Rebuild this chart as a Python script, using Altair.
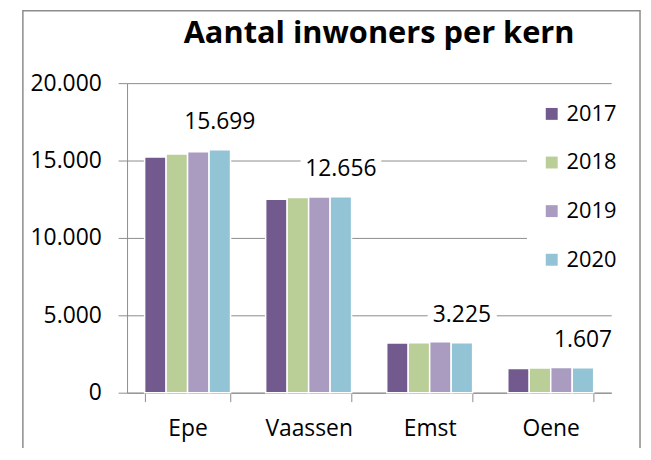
import altair as alt
import pandas as pd

kernen = ["Epe", "Vaassen", "Emst", "Oene"]
jaren = ["2017", "2018", "2019", "2020"]
v2017 = [15230, 12500, 3215, 1560]
v2018 = [15420, 12610, 3220, 1600]
v2019 = [15570, 12650, 3290, 1625]
v2020 = [15699, 12656, 3225, 1607]
kleuren = ["#725A8E", "#BACE98", "#AA9BC0", "#93C4D5"]
y_ticks = [0, 5000, 10000, 15000, 20000]
titel = ["Aantal inwoners per kern"]

FONT = "Open Sans"
GRAY = "#8C8C8C"

rows = []
for j, vals in zip(jaren, [v2017, v2018, v2019, v2020]):
    for k, v in zip(kernen, vals):
        rows.append({"Kern": k, "Jaar": j, "Inwoners": v})
df = pd.DataFrame(rows)

lab = pd.DataFrame({
    "Kern": kernen,
    "Jaar": ["2020"] * len(kernen),
    "Inwoners": v2020,
    "Label": [f"{v:,}".replace(",", ".") for v in v2020],
})

x_enc = alt.X(
    "Kern:N", sort=kernen,
    scale=alt.Scale(domain=kernen, paddingInner=0.29, paddingOuter=0.145),
    axis=alt.Axis(title=None, labelAngle=0, tickBand="extent", tickSize=9,
                  labelPadding=16, labelFont=FONT, labelFontSize=23,
                  labelColor="black", domainColor=GRAY, tickColor=GRAY,
                  grid=False),
)
xo_enc = alt.XOffset("Jaar:N", scale=alt.Scale(domain=jaren, paddingInner=0))
y_enc = alt.Y(
    "Inwoners:Q",
    scale=alt.Scale(domain=[0, 20000]),
    axis=alt.Axis(title=None, values=y_ticks, tickSize=9, labelPadding=17,
                  labelFont=FONT, labelFontSize=23, labelColor="black",
                  labelExpr="replace(format(datum.value, ','), ',', '.')",
                  domainColor=GRAY, tickColor=GRAY, gridColor=GRAY, grid=True),
)

bars = alt.Chart(df).mark_bar(stroke="white", strokeWidth=1.5).encode(
    x=x_enc,
    xOffset=xo_enc,
    y=y_enc,
    color=alt.Color(
        "Jaar:N",
        scale=alt.Scale(domain=jaren, range=kleuren),
        legend=alt.Legend(orient="none", legendX=403, legendY=6, title=None,
                          fillColor="white", padding=14, symbolType="square",
                          symbolSize=144, symbolStrokeWidth=0,
                          labelFont=FONT, labelFontSize=22, labelColor="black",
                          rowPadding=27, labelOffset=4),
    ),
)

halo = alt.Chart(lab).mark_text(
    dy=-28, font=FONT, fontSize=23, fill="white", stroke="white",
    strokeWidth=14, strokeJoin="round",
).encode(x=alt.X("Kern:N", sort=kernen), xOffset="Jaar:N", y="Inwoners:Q",
         text="Label:N")

txt = alt.Chart(lab).mark_text(
    dy=-28, font=FONT, fontSize=23, color="black",
).encode(x=alt.X("Kern:N", sort=kernen), xOffset="Jaar:N", y="Inwoners:Q",
         text="Label:N")

frame = alt.Chart(alt.Data(values=[{"f": 1}])).mark_rect(
    fillOpacity=0, stroke=GRAY, strokeWidth=1.5,
).encode(x=alt.value(-105), x2=alt.value(517), y=alt.value(-73),
         y2=alt.value(420))

title = alt.Chart(pd.DataFrame({"t": titel})).mark_text(
    font=FONT, fontSize=31, fontWeight="bold", color="black",
    align="center", baseline="alphabetic",
).encode(x=alt.value(254), y=alt.value(-40), text="t:N")

chart = alt.layer(frame, bars, halo, txt, title).properties(
    width=488,
    height=312,
    autosize=alt.AutoSizeParams(type="none"),
    padding={"left": 120, "top": 74, "right": 32, "bottom": 54},
).configure_view(strokeOpacity=0)

chart.save("out.html", embed_options={"renderer": "svg", "actions": False})
